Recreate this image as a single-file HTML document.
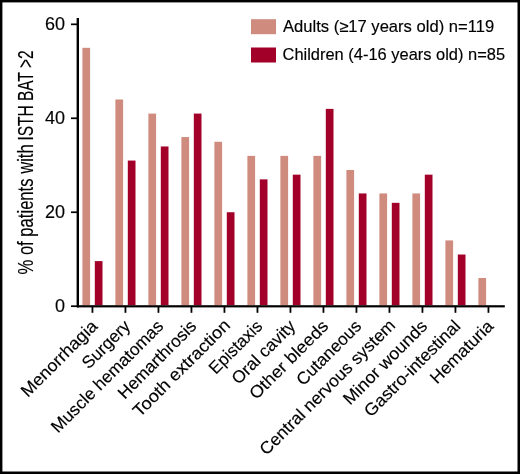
<!DOCTYPE html>
<html><head><meta charset="utf-8"><style>
html,body{margin:0;padding:0;background:#fff;}
svg{display:block;will-change:transform;}
text{font-family:"Liberation Sans",sans-serif;fill:#000;stroke:#000;stroke-width:0.15px;}
.xl{font-size:17.2px;}
.yl{font-size:18px;}
.lg{font-size:16.4px;}
.yt{font-size:22px;}
</style></head><body>
<svg width="520" height="474" viewBox="0 0 520 474">
<rect x="0" y="0" width="520" height="474" fill="#fff"/>
<rect x="82.40" y="47.81" width="7.7" height="257.39" fill="#CE8B7E"/>
<rect x="94.80" y="261.10" width="7.7" height="44.10" fill="#A30029"/>
<rect x="91.55" y="306" width="1.8" height="6.8" fill="#000"/>
<text x="98.45" y="327.20" text-anchor="end" transform="rotate(-45 98.45 327.20)" class="xl" textLength="100.10" lengthAdjust="spacingAndGlyphs">Menorrhagia</text>
<rect x="115.40" y="99.49" width="7.7" height="205.71" fill="#CE8B7E"/>
<rect x="127.80" y="160.56" width="7.7" height="144.64" fill="#A30029"/>
<rect x="124.55" y="306" width="1.8" height="6.8" fill="#000"/>
<text x="131.45" y="327.20" text-anchor="end" transform="rotate(-45 131.45 327.20)" class="xl" textLength="60.19" lengthAdjust="spacingAndGlyphs">Surgery</text>
<rect x="148.40" y="113.58" width="7.7" height="191.62" fill="#CE8B7E"/>
<rect x="160.80" y="146.47" width="7.7" height="158.73" fill="#A30029"/>
<rect x="157.55" y="306" width="1.8" height="6.8" fill="#000"/>
<text x="164.45" y="327.20" text-anchor="end" transform="rotate(-45 164.45 327.20)" class="xl" textLength="150.62" lengthAdjust="spacingAndGlyphs">Muscle hematomas</text>
<rect x="181.40" y="137.07" width="7.7" height="168.13" fill="#CE8B7E"/>
<rect x="193.80" y="113.58" width="7.7" height="191.62" fill="#A30029"/>
<rect x="190.55" y="306" width="1.8" height="6.8" fill="#000"/>
<text x="197.45" y="327.20" text-anchor="end" transform="rotate(-45 197.45 327.20)" class="xl" textLength="102.90" lengthAdjust="spacingAndGlyphs">Hemarthrosis</text>
<rect x="214.40" y="141.77" width="7.7" height="163.43" fill="#CE8B7E"/>
<rect x="226.80" y="212.24" width="7.7" height="92.96" fill="#A30029"/>
<rect x="223.55" y="306" width="1.8" height="6.8" fill="#000"/>
<text x="231.30" y="326.35" text-anchor="end" transform="rotate(-45 231.30 326.35)" class="xl" textLength="129.44" lengthAdjust="spacingAndGlyphs">Tooth extraction</text>
<rect x="247.40" y="155.86" width="7.7" height="149.34" fill="#CE8B7E"/>
<rect x="259.80" y="179.35" width="7.7" height="125.85" fill="#A30029"/>
<rect x="256.55" y="306" width="1.8" height="6.8" fill="#000"/>
<text x="263.45" y="327.20" text-anchor="end" transform="rotate(-45 263.45 327.20)" class="xl" textLength="67.48" lengthAdjust="spacingAndGlyphs">Epistaxis</text>
<rect x="280.40" y="155.86" width="7.7" height="149.34" fill="#CE8B7E"/>
<rect x="292.80" y="174.66" width="7.7" height="130.54" fill="#A30029"/>
<rect x="289.55" y="306" width="1.8" height="6.8" fill="#000"/>
<text x="296.45" y="327.20" text-anchor="end" transform="rotate(-45 296.45 327.20)" class="xl" textLength="82.09" lengthAdjust="spacingAndGlyphs">Oral cavity</text>
<rect x="313.40" y="155.86" width="7.7" height="149.34" fill="#CE8B7E"/>
<rect x="325.80" y="108.88" width="7.7" height="196.32" fill="#A30029"/>
<rect x="322.55" y="306" width="1.8" height="6.8" fill="#000"/>
<text x="329.45" y="327.20" text-anchor="end" transform="rotate(-45 329.45 327.20)" class="xl" textLength="103.42" lengthAdjust="spacingAndGlyphs">Other bleeds</text>
<rect x="346.40" y="169.96" width="7.7" height="135.24" fill="#CE8B7E"/>
<rect x="358.80" y="193.45" width="7.7" height="111.75" fill="#A30029"/>
<rect x="355.55" y="306" width="1.8" height="6.8" fill="#000"/>
<text x="362.45" y="327.20" text-anchor="end" transform="rotate(-45 362.45 327.20)" class="xl" textLength="83.74" lengthAdjust="spacingAndGlyphs">Cutaneous</text>
<rect x="379.40" y="193.45" width="7.7" height="111.75" fill="#CE8B7E"/>
<rect x="391.80" y="202.84" width="7.7" height="102.36" fill="#A30029"/>
<rect x="388.55" y="306" width="1.8" height="6.8" fill="#000"/>
<text x="396.30" y="326.35" text-anchor="end" transform="rotate(-45 396.30 326.35)" class="xl" textLength="183.45" lengthAdjust="spacingAndGlyphs">Central nervous system</text>
<rect x="412.40" y="193.45" width="7.7" height="111.75" fill="#CE8B7E"/>
<rect x="424.80" y="174.66" width="7.7" height="130.54" fill="#A30029"/>
<rect x="421.55" y="306" width="1.8" height="6.8" fill="#000"/>
<text x="428.45" y="327.20" text-anchor="end" transform="rotate(-45 428.45 327.20)" class="xl" textLength="111.00" lengthAdjust="spacingAndGlyphs">Minor wounds</text>
<rect x="445.40" y="240.43" width="7.7" height="64.77" fill="#CE8B7E"/>
<rect x="457.80" y="254.52" width="7.7" height="50.68" fill="#A30029"/>
<rect x="454.55" y="306" width="1.8" height="6.8" fill="#000"/>
<text x="461.45" y="327.20" text-anchor="end" transform="rotate(-45 461.45 327.20)" class="xl" textLength="127.94" lengthAdjust="spacingAndGlyphs">Gastro-intestinal</text>
<rect x="478.40" y="278.01" width="7.7" height="27.19" fill="#CE8B7E"/>
<rect x="487.55" y="306" width="1.8" height="6.8" fill="#000"/>
<text x="494.45" y="327.20" text-anchor="end" transform="rotate(-45 494.45 327.20)" class="xl" textLength="81.30" lengthAdjust="spacingAndGlyphs">Hematuria</text>
<rect x="76.6" y="18" width="2.4" height="289.4" fill="#000"/>
<rect x="77" y="305.2" width="427.8" height="2.2" fill="#000"/>
<rect x="71" y="305.35" width="7" height="1.7" fill="#000"/>
<text x="65" y="312.00" text-anchor="end" class="yl">0</text>
<rect x="71" y="211.39" width="7" height="1.7" fill="#000"/>
<text x="65" y="218.04" text-anchor="end" class="yl">20</text>
<rect x="71" y="117.43" width="7" height="1.7" fill="#000"/>
<text x="65" y="124.08" text-anchor="end" class="yl">40</text>
<rect x="71" y="23.47" width="7" height="1.7" fill="#000"/>
<text x="65" y="30.12" text-anchor="end" class="yl">60</text>
<text class="yt" transform="translate(33.2 274.5) rotate(-90)" textLength="130.2" lengthAdjust="spacingAndGlyphs">% of patients with</text>
<text class="yt" transform="translate(33.2 140.5) rotate(-90)" textLength="90.0" lengthAdjust="spacingAndGlyphs">ISTH BAT &gt;2</text>
<rect x="251" y="19.2" width="25" height="15" fill="#CE8B7E"/>
<rect x="251" y="47.5" width="25" height="15" fill="#A30029"/>
<text x="283" y="31.5" class="lg" textLength="211.1" lengthAdjust="spacingAndGlyphs">Adults (&#8805;17 years old) n=119</text>
<text x="282.5" y="60" class="lg" textLength="222.6" lengthAdjust="spacingAndGlyphs">Children (4-16 years old) n=85</text>
<rect x="0" y="0" width="520" height="2.4" fill="#000"/>
<rect x="0" y="0" width="2.4" height="474" fill="#000"/>
<rect x="517.5" y="0" width="2.5" height="474" fill="#000"/>
<rect x="0" y="471.5" width="520" height="2.5" fill="#000"/>
</svg>
</body></html>
